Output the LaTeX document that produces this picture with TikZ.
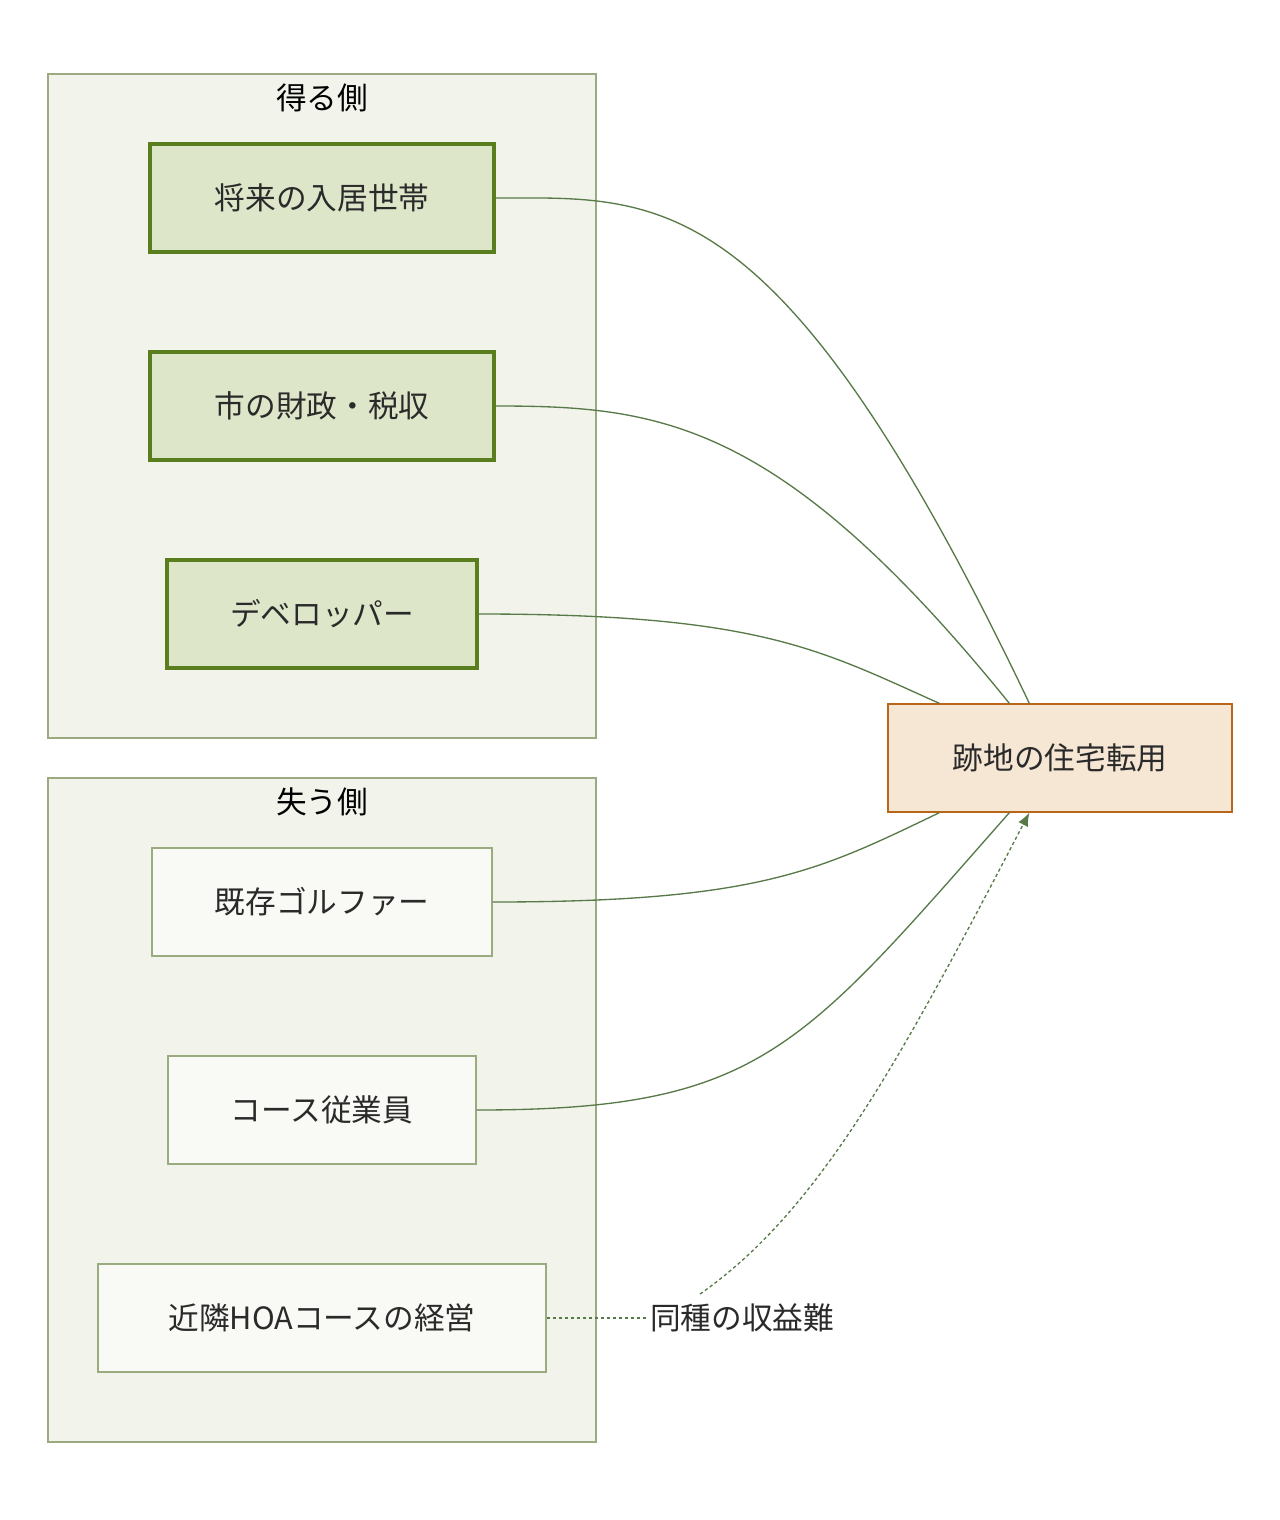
\documentclass[tikz,border=0pt]{standalone}
\usepackage{fontspec}
\setmainfont{Noto Sans CJK JP}
\usetikzlibrary{calc,arrows.meta}
\definecolor{grpfill}{HTML}{F2F4EC}
\definecolor{grpline}{HTML}{9AAB80}
\definecolor{gainfill}{HTML}{DDE6C9}
\definecolor{gainline}{HTML}{5A7D1E}
\definecolor{lossfill}{HTML}{F9FAF5}
\definecolor{tfill}{HTML}{F6E6D4}
\definecolor{tline}{HTML}{B8661A}
\definecolor{edge}{HTML}{587A48}
\definecolor{txt}{HTML}{2A2A2A}
\begin{document}
\begin{tikzpicture}[x=0.75pt,y=-0.75pt,
  grp/.style={draw=grpline,fill=grpfill,line width=1pt},
  box/.style={rectangle,inner sep=0pt,font=\fontsize{23}{27}\selectfont,text=txt},
  gain/.style={box,draw=gainline,fill=gainfill,line width=2.4pt},
  loss/.style={box,draw=grpline,fill=lossfill,line width=1pt},
  ttl/.style={font=\fontsize{23}{27}\selectfont,text=black},
  con/.style={draw=edge,line width=1pt}]
\useasboundingbox (0,0) rectangle (1280,1520);
\draw[grp] (48,74) rectangle (596,738);
\node[ttl] (t1) at (322,98) {得る側};
\draw[grp] (48,778) rectangle (596,1442);
\node[ttl] (t2) at (322,802) {失う側};
\node[gain,minimum width=258pt,minimum height=81pt] (a) at (322,198) {将来の入居世帯};
\node[gain,minimum width=258pt,minimum height=81pt] (b) at (322,406) {市の財政・税収};
\node[gain,minimum width=232.5pt,minimum height=81pt] (c) at (322,614) {デベロッパー};
\node[loss,minimum width=255pt,minimum height=81pt] (d) at (322,902) {既存ゴルファー};
\node[loss,minimum width=231pt,minimum height=81pt] (e) at (322,1110) {コース従業員};
\node[loss,minimum width=336pt,minimum height=81pt] (f) at (322,1318) {近隣HOAコースの経営};
\node[box,draw=tline,fill=tfill,line width=1pt,minimum width=258pt,minimum height=81pt] (t) at (1060,758) {跡地の住宅転用};
\coordinate (tn1) at ($(t.north west)+(142,0)$);
\coordinate (tn2) at ($(t.north west)+(122,0)$);
\coordinate (tn3) at ($(t.north west)+(52,0)$);
\coordinate (ts3) at ($(t.south west)+(52,0)$);
\coordinate (ts2) at ($(t.south west)+(122,0)$);
\coordinate (ts1) at ($(t.south west)+(142,0)$);
\draw[con] (a.east) .. controls (660,198) and (780,180) .. (tn1);
\draw[con] (b.east) .. controls (660,406) and (780,420) .. (tn2);
\draw[con] (c.east) .. controls (760,614) and (820,650) .. (tn3);
\draw[con] (d.east) .. controls (760,902) and (820,870) .. (ts3);
\draw[con] (e.east) .. controls (760,1110) and (800,1050) .. (ts2);
\node[box,fill=white,inner sep=2pt] (lbl) at (742,1318) {同種の収益難};
\draw[con,dash pattern=on 2.5pt off 2pt] (f.east) -- (lbl.west);
\draw[con,dash pattern=on 2.5pt off 2pt,-{Latex[length=10pt,width=8pt]}] (700,1294) .. controls (820,1210) and (900,1060) .. (ts1);
\end{tikzpicture}
\end{document}
